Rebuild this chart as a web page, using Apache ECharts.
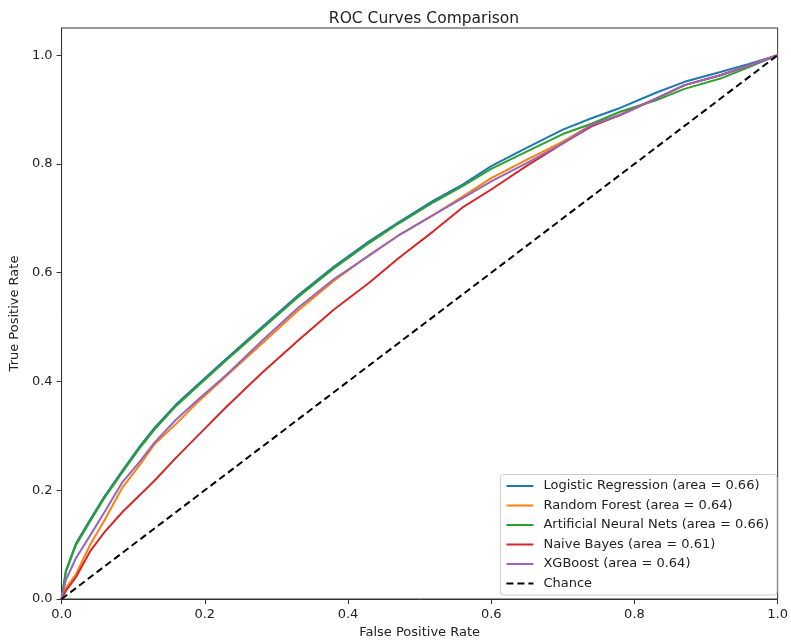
<!DOCTYPE html>
<html>
<head>
<meta charset="utf-8">
<script src="https://cdn.jsdelivr.net/npm/echarts@6/dist/echarts.min.js"></script>
<style>
html,body{margin:0;padding:0;background:#fff;}
#chart{width:791px;height:644px;}
</style>
</head>
<body>
<div id="chart"></div>
<script>
// False positive rate grid (shared by all model curves)
const fpr = [0, 0.006, 0.02, 0.04, 0.06, 0.085, 0.11, 0.13, 0.16, 0.19, 0.23, 0.28, 0.33, 0.38, 0.43, 0.47, 0.52, 0.56, 0.60, 0.65, 0.70, 0.74, 0.78, 0.83, 0.87, 0.92, 0.96, 1.0];

// True positive rates
const tprLR  = [0, 0.052, 0.102, 0.146, 0.189, 0.236, 0.282, 0.315, 0.358, 0.394, 0.442, 0.500, 0.558, 0.611, 0.658, 0.692, 0.733, 0.762, 0.796, 0.830, 0.863, 0.884, 0.903, 0.931, 0.951, 0.969, 0.984, 1.0];
const tprRF  = [0, 0.020, 0.045, 0.100, 0.145, 0.205, 0.248, 0.285, 0.322, 0.362, 0.410, 0.470, 0.530, 0.585, 0.633, 0.668, 0.707, 0.740, 0.774, 0.808, 0.841, 0.872, 0.890, 0.920, 0.945, 0.963, 0.981, 1.0];
const tprANN = [0, 0.050, 0.099, 0.143, 0.186, 0.233, 0.279, 0.312, 0.355, 0.391, 0.439, 0.497, 0.555, 0.608, 0.655, 0.690, 0.730, 0.759, 0.791, 0.823, 0.855, 0.874, 0.896, 0.917, 0.938, 0.957, 0.978, 1.0];
const tprNB  = [0, 0.015, 0.040, 0.088, 0.123, 0.160, 0.192, 0.218, 0.260, 0.300, 0.353, 0.416, 0.475, 0.532, 0.582, 0.626, 0.677, 0.720, 0.753, 0.797, 0.838, 0.869, 0.890, 0.920, 0.945, 0.963, 0.981, 1.0];
const tprXGB = [0, 0.035, 0.075, 0.117, 0.160, 0.215, 0.254, 0.288, 0.330, 0.366, 0.412, 0.475, 0.535, 0.588, 0.632, 0.668, 0.707, 0.737, 0.768, 0.802, 0.838, 0.872, 0.890, 0.920, 0.945, 0.963, 0.981, 1.0];

const chanceX = [0, 1];
const chanceY = [0, 1];

const seriesNames = [
  'Logistic Regression (area = 0.66)',
  'Random Forest (area = 0.64)',
  'Artificial Neural Nets (area = 0.66)',
  'Naive Bayes (area = 0.61)',
  'XGBoost (area = 0.64)',
  'Chance'
];
const seriesColors = ['#1f77b4', '#ff7f0e', '#2ca02c', '#d62728', '#9467bd', '#000000'];
const tickValues = [0, 0.2, 0.4, 0.6, 0.8, 1.0];

const pair = (xs, ys) => xs.map((x, i) => [x, ys[i]]);
const curves = [tprLR, tprRF, tprANN, tprNB, tprXGB];

const FONT = 'DejaVu Sans';
const series = curves.map((t, i) => ({
  name: seriesNames[i],
  type: 'line',
  data: pair(fpr, t),
  showSymbol: false,
  symbol: 'none',
  lineStyle: { color: seriesColors[i], width: 2 },
  itemStyle: { color: seriesColors[i] },
  z: 2 + i
}));
series.push({
  name: seriesNames[5],
  type: 'line',
  data: pair(chanceX, chanceY),
  showSymbol: false,
  symbol: 'none',
  lineStyle: { color: '#000', width: 2, type: [7, 4] },
  itemStyle: { color: '#000' },
  z: 10
});

const chart = echarts.init(document.getElementById('chart'), null, { renderer: 'canvas' });
chart.setOption({
  animation: false,
  backgroundColor: '#fff',
  title: {
    text: 'ROC Curves Comparison',
    left: 419, top: 6, textAlign: 'center',
    textStyle: { fontFamily: FONT, fontSize: 15.5, fontWeight: 'normal', color: '#222' }
  },
  grid: {
    left: 60, right: 12, top: 28, bottom: 43,
    show: true, borderColor: '#333', borderWidth: 1, backgroundColor: 'transparent'
  },
  legend: {
    orient: 'vertical',
    right: 14, bottom: 49,
    itemWidth: 27, itemHeight: 13, itemGap: 6.5,
    padding: [5, 8, 5, 5],
    backgroundColor: 'rgba(255,255,255,0.85)',
    borderColor: '#cccccc', borderWidth: 1, borderRadius: 3,
    itemStyle: { opacity: 0 },
    textStyle: { fontFamily: FONT, fontSize: 13, color: '#222', padding: [0, 0, 0, 5] },
    data: seriesNames
  },
  xAxis: {
    type: 'value', min: 0, max: 1, interval: 0.2,
    name: 'False Positive Rate', nameLocation: 'middle', nameGap: 27,
    nameTextStyle: { fontFamily: FONT, fontSize: 13, color: '#222' },
    axisLine: { show: true, lineStyle: { color: '#333', width: 1 } },
    axisTick: { show: true, inside: false, length: 5, lineStyle: { color: '#333' } },
    axisLabel: { fontFamily: FONT, fontSize: 13, color: '#222', margin: 9,
      formatter: v => v.toFixed(1) },
    splitLine: { show: false }
  },
  yAxis: {
    type: 'value', min: 0, max: 1.05,
    name: 'True Positive Rate', nameLocation: 'middle', nameGap: 32, nameRotate: 90,
    nameTextStyle: { fontFamily: FONT, fontSize: 13, color: '#222' },
    axisLine: { show: true, lineStyle: { color: '#333', width: 1 } },
    axisTick: { show: true, inside: false, length: 5, lineStyle: { color: '#333' }, customValues: tickValues },
    axisLabel: { fontFamily: FONT, fontSize: 13, color: '#222', margin: 9,
      customValues: tickValues, formatter: v => v.toFixed(1) },
    splitLine: { show: false }
  },
  series: series
});
</script>
</body>
</html>
